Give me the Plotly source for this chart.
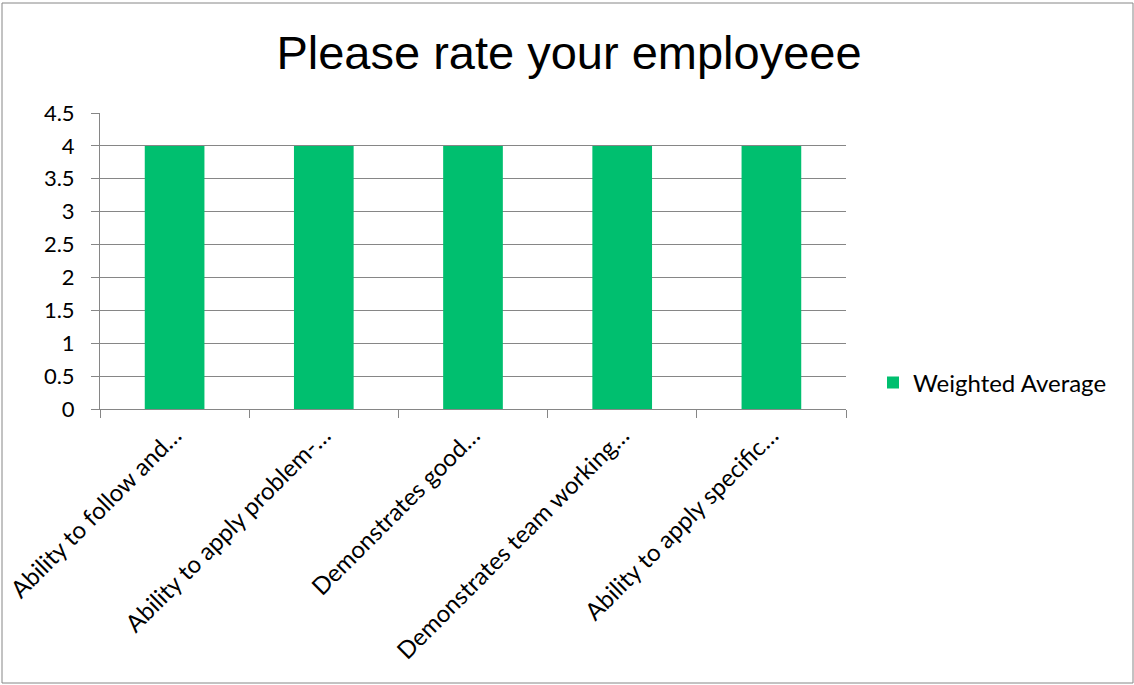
import plotly.graph_objects as go

categories = [
    "Ability to follow and…",
    "Ability to apply problem-…",
    "Demonstrates good…",
    "Demonstrates team working…",
    "Ability to apply specific…",
]
weighted_average = [4, 4, 4, 4, 4]
series_name = "Weighted Average"
title_text = "Please rate your employeee"

W, H = 1134, 685
L, R, T, B = 100, 288, 113, 276
pw, ph = W - L - R, H - T - B

fig = go.Figure()
fig.add_trace(go.Bar(
    x=categories, y=weighted_average, name=series_name,
    marker=dict(color="#00BF6F", line=dict(width=0)),
    showlegend=True,
))

grid = "#868686"
fig.update_layout(
    width=W, height=H,
    margin=dict(l=L, r=R, t=T, b=B, autoexpand=False),
    paper_bgcolor="white", plot_bgcolor="white",
    bargap=0.6,
    font=dict(family="Lato, Open Sans, sans-serif", size=22, color="black"),
    title=dict(text=title_text, x=(569 - L) / pw, xref="paper", xanchor="center",
               y=1 - 53 / H, yanchor="middle",
               font=dict(family="Liberation Sans, Arial, sans-serif", size=47, color="black")),
    showlegend=True,
    legend=dict(x=(873 - L) / pw, xanchor="left", y=(409 - 383) / ph, yanchor="middle",
                font=dict(size=24), bgcolor="rgba(0,0,0,0)"),
    xaxis=dict(
        tickangle=-45, showline=True, linecolor=grid, linewidth=1,
        ticks="outside", ticklen=8, tickcolor=grid, tickson="boundaries",
        showgrid=False, tickfont=dict(size=24), ticklabelstandoff=2,
        automargin=False,
    ),
    yaxis=dict(
        range=[0, 4.5], dtick=0.5, tick0=0,
        showline=True, linecolor=grid, linewidth=1,
        ticks="outside", ticklen=8, tickcolor=grid,
        showgrid=True, gridcolor=grid, gridwidth=1, zeroline=False,
        tickfont=dict(size=22), ticklabelstandoff=12, automargin=False,
    ),
    shapes=[dict(type="rect", xref="paper", yref="paper",
                 x0=(2 - L) / pw, x1=(1133 - L) / pw,
                 y0=(409 - 683) / ph, y1=(409 - 3) / ph,
                 line=dict(color=grid, width=1), fillcolor="rgba(0,0,0,0)", layer="below")],
)

fig.write_html("out.html", config={"displayModeBar": False},
               post_script="document.body.style.margin='0';document.body.style.overflow='hidden';")
